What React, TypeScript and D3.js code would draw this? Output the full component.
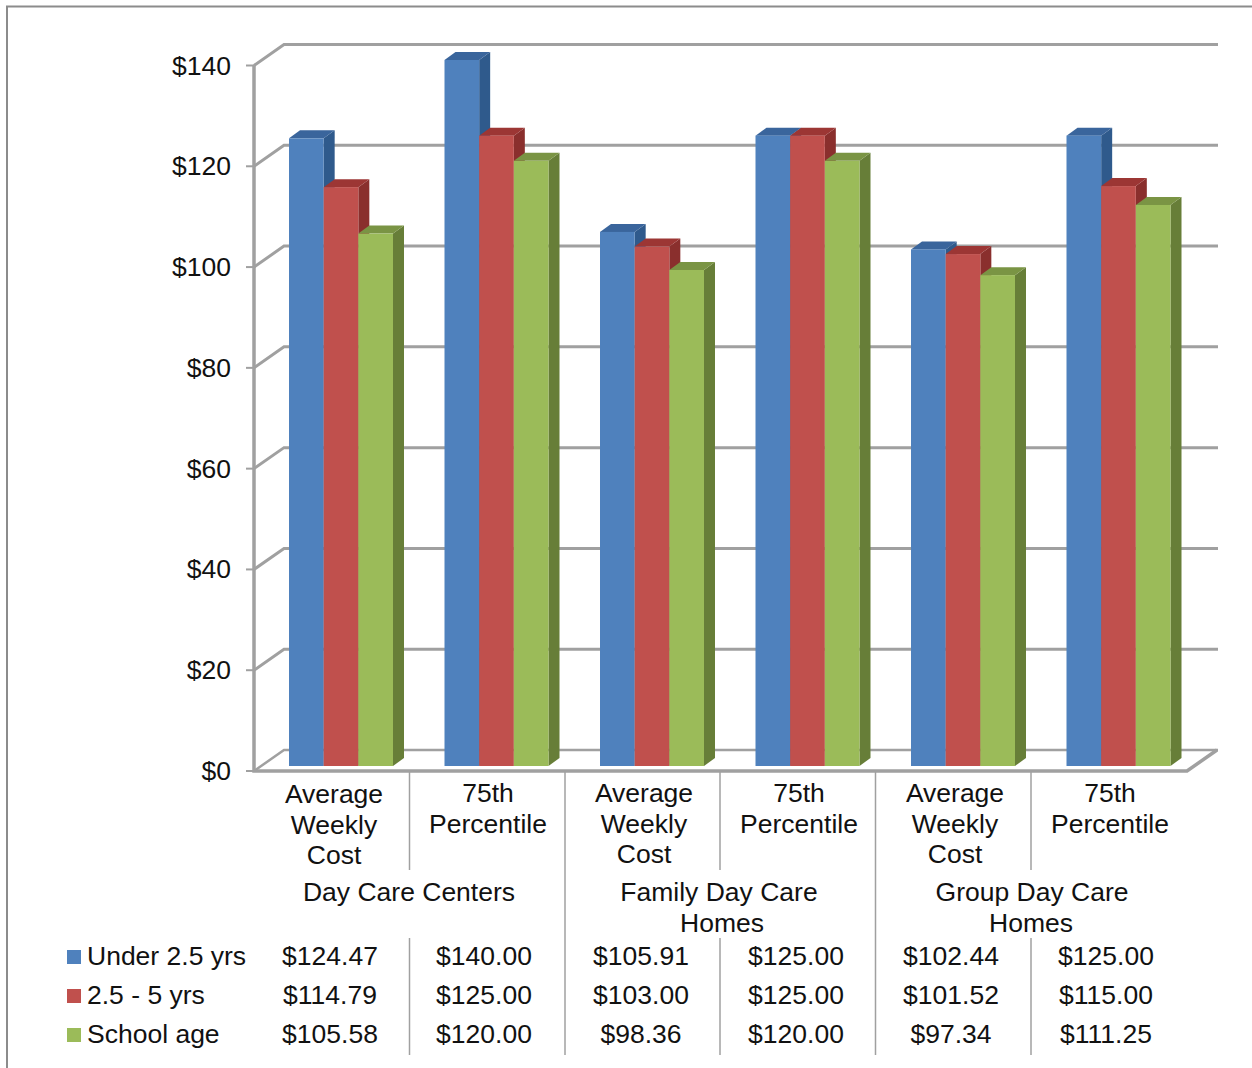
import React from "react";
import * as d3 from "d3";

const categories = ["Average Weekly Cost", "75th Percentile", "Average Weekly Cost", "75th Percentile", "Average Weekly Cost", "75th Percentile"];
const categoryLines = [["Average", "Weekly", "Cost"], ["75th", "Percentile"], ["Average", "Weekly", "Cost"], ["75th", "Percentile"], ["Average", "Weekly", "Cost"], ["75th", "Percentile"]];
const groups = [["Day Care Centers"], ["Family Day Care", "Homes"], ["Group Day Care", "Homes"]];
const seriesNames = ["Under 2.5 yrs", "2.5 - 5 yrs", "School age"];
const under25 = [124.47, 140, 105.91, 125, 102.44, 125];
const age25to5 = [114.79, 125, 103, 125, 101.52, 115];
const schoolAge = [105.58, 120, 98.36, 120, 97.34, 111.25];
const under25Labels = ["$124.47", "$140.00", "$105.91", "$125.00", "$102.44", "$125.00"];
const age25to5Labels = ["$114.79", "$125.00", "$103.00", "$125.00", "$101.52", "$115.00"];
const schoolAgeLabels = ["$105.58", "$120.00", "$98.36", "$120.00", "$97.34", "$111.25"];
const yTicks = [0, 20, 40, 60, 80, 100, 120, 140];

const FRONT = ["#4f81bd", "#c0504d", "#9bbb59"];
const SIDE = ["#2f5a8c", "#8a2f2d", "#677e38"];
const TOP = ["#3a659c", "#9c3634", "#7a9444"];
const GRAY = "#a0a0a0";
const FONT = "'Liberation Sans', Arial, sans-serif";
const FS = 26.5;

const yAxis = d3.scaleLinear().domain([0, 140]).range([771, 65.5]);
const yBar = d3.scaleLinear().domain([0, 140]).range([766, 60]);
const xCat = d3.scaleBand<number>().domain(d3.range(6)).range([254, 1187]);
const xSeries = d3.scaleBand<number>().domain(d3.range(3)).range([0, 104]);
const BX = 35; // offset of the first bar within a category
const DX = 30, DY = -21;
const BDX = 11, BDY = -8;

export default function App() {
  const all = [under25, age25to5, schoolAge];
  const allLabels = [under25Labels, age25to5Labels, schoolAgeLabels];
  const rowY = [956, 995, 1034];
  const catCx = [334, 488, 644, 799, 955, 1110];
  const catY = [[794, 825, 855], [793, 824], [793, 824, 854], [793, 824], [793, 824, 854], [793, 824]];
  const tableCx = [330, 484, 641, 796, 951, 1106];
  const sep = [409.5, 565, 720, 875.5, 1031];
  const groupCx = [409, 719, 1032];
  const groupCx2 = [0, 722, 1031];

  return (
    <svg width={1252} height={1068} style={{ position: "absolute", left: 0, top: 0, background: "#fff" }} fontFamily={FONT} fill="#111">
      <path d="M7 1068V6.5H1252" fill="none" stroke="#8c8c8c" strokeWidth={2} />

      {/* gridlines and walls */}
      {yTicks.map((t) => (
        <g key={t} fill="none" stroke={GRAY} strokeWidth={3}>
          <path d={`M${254} ${yAxis(t)}L${254 + DX} ${yAxis(t) + DY}H${254 + DX + 934}`} strokeWidth={t === 0 ? 2.5 : 3} />
          <path d={`M${246} ${yAxis(t)}H254`} strokeWidth={2} />
        </g>
      ))}
      <path d={`M254 ${yAxis(140)}V${yAxis(0)}H1187L1217 ${yAxis(0) + DY}`} fill="none" stroke={GRAY} strokeWidth={3.5} />

      {/* bars */}
      {categories.map((_, c) =>
        all.map((vals, s) => {
          const x0 = xCat(c)! + BX + xSeries(s)!;
          const w = xSeries.bandwidth();
          const top = yBar(vals[c]);
          const base = yBar(0);
          return (
            <g key={`${c}-${s}`}>
              <path d={`M${x0 + w} ${top}l${BDX} ${BDY}V${base + BDY}l${-BDX} ${-BDY}Z`} fill={SIDE[s]} />
              <path d={`M${x0} ${top}l${BDX} ${BDY}h${w}l${-BDX} ${-BDY}Z`} fill={TOP[s]} />
              <rect x={x0} y={top} width={w} height={base - top} fill={FRONT[s]} />
            </g>
          );
        })
      )}

      {/* y tick labels */}
      {yTicks.map((t) => (
        <text key={t} x={231} y={yAxis(t) + 9} textAnchor="end" fontSize={FS}>{`$${t}`}</text>
      ))}

      {/* separators */}
      {sep.map((x, i) =>
        i % 2 === 0 ? (
          <g key={x} stroke={GRAY} strokeWidth={1.5}>
            <line x1={x} x2={x} y1={771} y2={870} />
            <line x1={x} x2={x} y1={938} y2={1055} />
          </g>
        ) : (
          <line key={x} x1={x} x2={x} y1={771} y2={1055} stroke={GRAY} strokeWidth={1.5} />
        )
      )}

      {/* category labels */}
      {categoryLines.map((lines, c) =>
        lines.map((l, i) => (
          <text key={`${c}-${i}`} x={catCx[c]} y={catY[c][i] + 9} textAnchor="middle" fontSize={FS}>{l}</text>
        ))
      )}
      {groups.map((lines, g) =>
        lines.map((l, i) => (
          <text key={`${g}-${i}`} x={i === 0 ? groupCx[g] : groupCx2[g]} y={(i === 0 ? 892 : 923) + 9} textAnchor="middle" fontSize={FS}>{l}</text>
        ))
      )}

      {/* data table with legend keys */}
      {seriesNames.map((name, s) => (
        <g key={name}>
          <rect x={67} y={rowY[s] - 6} width={14} height={14} fill={FRONT[s]} />
          <text x={87} y={rowY[s] + 9} fontSize={FS}>{name}</text>
          {allLabels[s].map((l, c) => (
            <text key={c} x={tableCx[c]} y={rowY[s] + 9} textAnchor="middle" fontSize={FS}>{l}</text>
          ))}
        </g>
      ))}
    </svg>
  );
}
